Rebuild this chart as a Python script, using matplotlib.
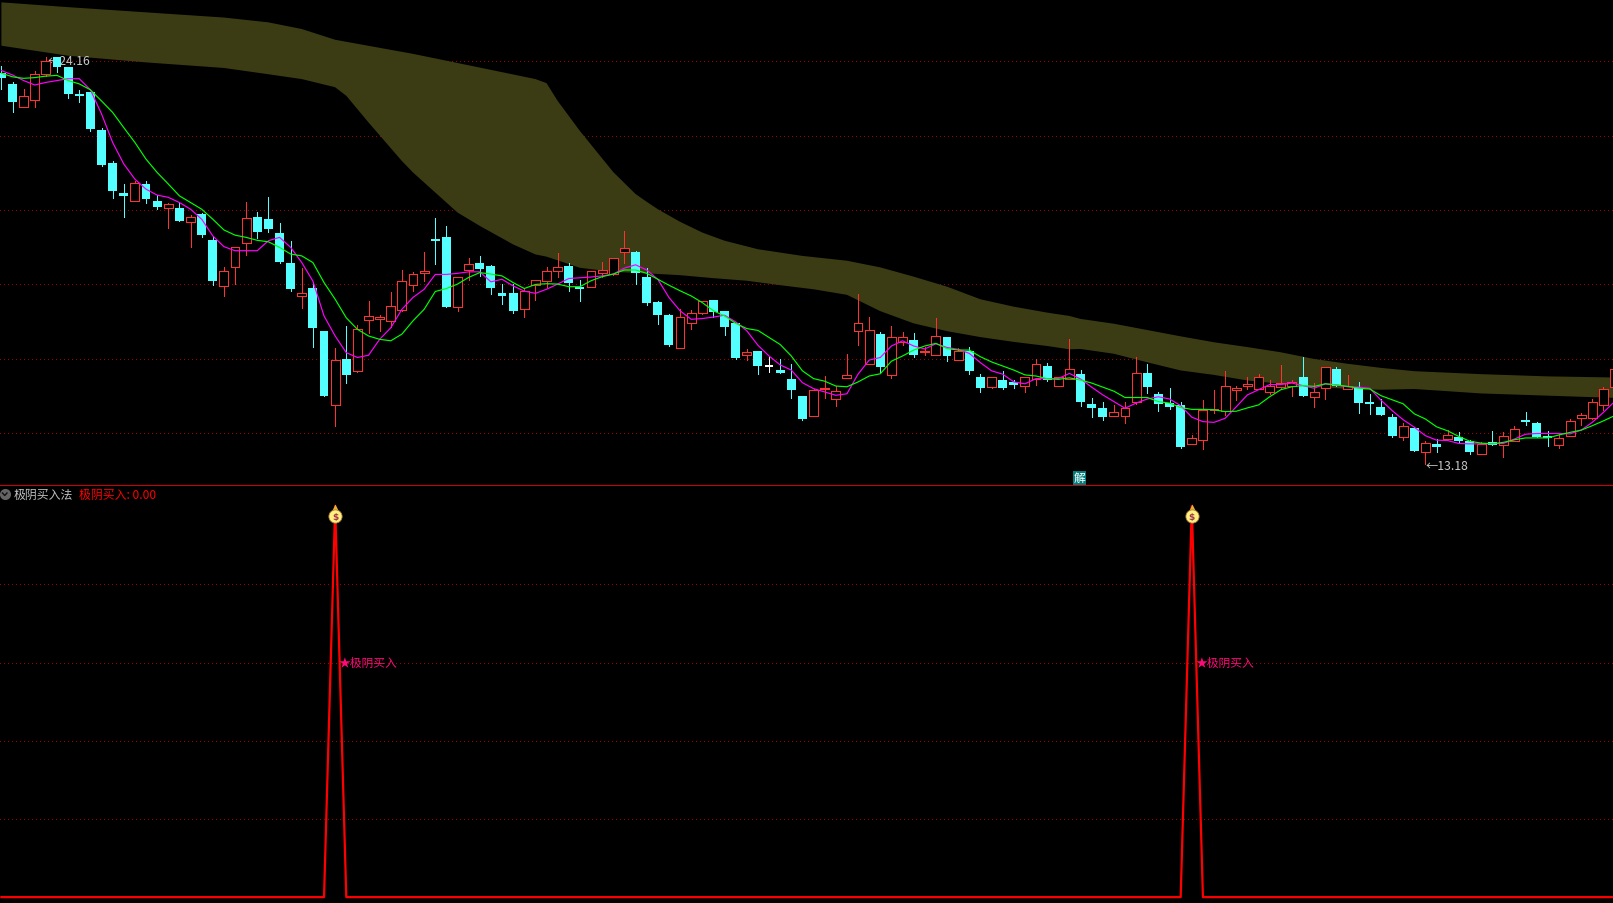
import matplotlib
matplotlib.use("Agg")
import matplotlib.pyplot as plt
from matplotlib.lines import Line2D

plt.rcParams['font.family'] = ['Noto Sans CJK SC', 'DejaVu Sans']

# daily candles
opens = [23.72, 23.43, 22.81, 23.00, 23.70, 24.15, 23.88, 23.15, 23.21, 22.18,
         21.29, 20.48, 20.28, 20.73, 20.27, 20.09, 20.08, 19.71, 19.92, 19.21,
         17.98, 18.49, 19.14, 19.83, 19.78, 19.40, 18.59, 17.71, 17.92, 16.76,
         14.77, 16.00, 15.69, 17.06, 17.09, 17.04, 17.33, 18.01, 18.34, 19.24,
         19.29, 17.42, 18.41, 18.59, 18.51, 17.78, 17.78, 17.36, 18.00, 18.11,
         18.39, 18.51, 17.94, 17.95, 18.33, 18.30, 18.90, 18.89, 18.21, 17.54,
         17.19, 16.31, 16.98, 17.24, 17.59, 17.30, 16.97, 16.12, 16.22, 15.80,
         15.70, 15.46, 15.00, 14.47, 15.20, 14.93, 15.50, 16.76, 15.87, 16.68,
         15.58, 16.48, 16.51, 16.20, 16.12, 16.59, 15.97, 16.22, 15.51, 15.25,
         15.43, 15.34, 15.28, 15.46, 15.81, 15.28, 15.46, 15.60, 14.80, 14.69,
         14.48, 14.48, 14.86, 15.63, 15.07, 14.82, 14.77, 13.72, 13.83, 14.62,
         14.61, 15.18, 15.29, 15.21, 15.13, 15.26, 15.28, 15.52, 14.99, 15.24,
         15.74, 15.21, 15.25, 14.82, 14.71, 14.44, 13.91, 14.15, 13.50, 13.72,
         13.86, 13.90, 13.80, 13.45, 13.77, 13.70, 13.81, 14.36, 14.28, 13.93,
         13.70, 13.94, 14.41, 14.42, 14.78, 15.26]
closes = [23.59, 22.95, 23.09, 23.69, 24.04, 23.88, 23.15, 23.10, 22.21, 21.24,
          20.54, 20.40, 20.75, 20.32, 20.10, 20.18, 19.73, 19.83, 19.35, 18.11,
          18.37, 19.04, 19.80, 19.43, 19.51, 18.62, 17.89, 17.80, 16.84, 15.00,
          15.99, 15.57, 16.83, 17.18, 17.15, 17.45, 18.12, 18.31, 18.39, 19.19,
          17.40, 18.23, 18.58, 18.43, 17.92, 17.70, 17.30, 17.85, 18.15, 18.37,
          18.50, 18.05, 17.89, 18.37, 18.42, 18.74, 18.99, 18.32, 17.51, 17.19,
          16.38, 17.13, 17.26, 17.56, 17.27, 16.86, 16.03, 16.21, 15.81, 15.80,
          15.62, 15.16, 14.38, 15.16, 15.23, 15.15, 15.59, 16.99, 16.80, 15.78,
          16.59, 16.59, 16.13, 16.23, 16.64, 16.08, 16.22, 15.68, 15.22, 15.51,
          15.24, 15.32, 15.51, 15.88, 15.43, 15.51, 15.75, 14.85, 14.69, 14.44,
          14.57, 14.69, 15.62, 15.25, 14.80, 14.71, 13.63, 13.89, 14.63, 14.65,
          15.27, 15.23, 15.33, 15.52, 15.27, 15.35, 15.38, 15.01, 15.11, 15.79,
          15.28, 15.27, 14.82, 14.80, 14.50, 13.93, 14.19, 13.53, 13.73, 13.63,
          13.96, 13.80, 13.50, 13.72, 13.69, 13.92, 14.11, 14.31, 13.90, 13.88,
          13.87, 14.33, 14.49, 14.84, 15.19, 15.73]
highs = [23.92, 23.49, 23.29, 23.78, 24.16, 24.15, 23.88, 23.26, 23.21, 22.24,
         21.35, 20.73, 20.81, 20.81, 20.43, 20.21, 20.24, 19.89, 19.94, 19.32,
         18.48, 19.04, 20.24, 19.97, 20.37, 19.67, 19.19, 18.46, 18.08, 16.76,
         16.30, 16.89, 16.92, 17.57, 17.19, 17.81, 18.40, 18.35, 18.89, 19.81,
         19.59, 18.23, 18.73, 18.78, 18.54, 18.02, 18.02, 17.89, 18.15, 18.48,
         18.86, 18.59, 18.13, 18.37, 18.62, 18.74, 19.46, 18.92, 18.46, 17.57,
         17.21, 17.35, 17.32, 17.57, 17.59, 17.30, 17.00, 16.27, 16.22, 16.05,
         16.00, 15.87, 15.00, 15.19, 15.54, 15.27, 16.14, 17.75, 17.13, 16.73,
         16.89, 16.73, 16.70, 16.32, 17.11, 16.59, 16.31, 16.32, 15.60, 15.51,
         15.68, 15.43, 15.52, 16.00, 15.89, 15.51, 16.54, 15.71, 14.96, 14.85,
         14.77, 14.85, 16.06, 15.88, 15.12, 15.23, 14.85, 13.96, 14.90, 15.17,
         15.69, 15.28, 15.52, 15.60, 15.44, 15.85, 15.44, 16.06, 15.36, 15.79,
         15.79, 15.58, 15.39, 15.07, 14.93, 14.53, 14.28, 14.17, 13.80, 13.85,
         14.09, 14.04, 13.82, 13.77, 14.07, 14.04, 14.20, 14.58, 14.31, 14.07,
         13.99, 14.39, 14.55, 14.93, 15.25, 15.79]
lows = [23.29, 22.68, 22.81, 22.81, 23.63, 23.76, 23.06, 22.95, 22.16, 21.21,
        20.35, 19.83, 20.28, 20.21, 20.05, 19.54, 19.73, 19.02, 19.29, 18.00,
        17.70, 18.03, 18.81, 19.27, 19.43, 18.59, 17.84, 17.38, 16.32, 15.00,
        14.19, 15.35, 15.65, 16.70, 16.76, 16.86, 17.30, 17.84, 18.11, 18.57,
        17.40, 17.30, 18.13, 18.24, 17.76, 17.49, 17.24, 17.13, 17.59, 17.96,
        18.21, 17.84, 17.57, 17.95, 18.21, 18.27, 18.59, 18.03, 17.46, 16.95,
        16.35, 16.31, 16.81, 17.21, 17.13, 16.65, 16.00, 15.97, 15.60, 15.65,
        15.62, 14.95, 14.35, 14.47, 14.95, 14.73, 15.50, 16.40, 15.87, 15.65,
        15.49, 16.40, 16.05, 16.13, 16.12, 15.95, 15.97, 15.60, 15.11, 15.22,
        15.19, 15.22, 15.11, 15.30, 15.41, 15.28, 15.46, 14.74, 14.44, 14.36,
        14.48, 14.28, 14.80, 15.09, 14.61, 14.66, 13.61, 13.72, 13.58, 14.55,
        14.50, 14.90, 15.20, 15.20, 15.07, 15.20, 15.01, 15.01, 14.71, 14.93,
        15.28, 15.21, 14.55, 14.52, 14.50, 13.90, 13.82, 13.53, 13.18, 13.50,
        13.85, 13.77, 13.45, 13.45, 13.69, 13.36, 13.80, 14.23, 13.90, 13.66,
        13.61, 13.93, 14.23, 14.39, 14.63, 15.20]

# the two moving averages
ma_fast = [23.79, 23.67, 23.52, 23.40, 23.47, 23.52, 23.57, 23.57, 23.27, 22.62,
           21.85, 21.27, 20.86, 20.59, 20.43, 20.37, 20.23, 20.05, 19.78, 19.33,
           19.04, 18.93, 18.93, 18.93, 19.20, 19.29, 19.02, 18.61, 18.11, 17.17,
           16.63, 16.18, 16.05, 16.11, 16.54, 16.85, 17.35, 17.67, 17.89, 18.29,
           18.29, 18.32, 18.36, 18.36, 18.09, 18.16, 17.98, 17.84, 17.78,
           17.89, 18.03, 18.18, 18.20, 18.22, 18.25, 18.30, 18.46, 18.55, 18.41,
           18.16, 17.67, 17.31, 17.08, 17.10, 17.14, 17.19, 17.01, 16.77, 16.38,
           16.09, 15.85, 15.71, 15.37, 15.21, 15.12, 15.03, 15.07, 15.60, 15.98,
           16.05, 16.36, 16.50, 16.36, 16.28, 16.42, 16.32, 16.27, 16.16, 15.91,
           15.69, 15.60, 15.39, 15.34, 15.48, 15.48, 15.48, 15.62,
           15.47, 15.25, 15.04, 14.86, 14.68, 14.82, 14.93, 14.99, 14.93, 14.75,
           14.44, 14.32, 14.30, 14.41, 14.72, 15.04, 15.18, 15.32, 15.32, 15.36,
           15.29, 15.22, 15.34, 15.31, 15.26, 15.25, 15.22, 14.90, 14.62, 14.37,
           14.17, 13.94, 13.82, 13.81, 13.73, 13.72, 13.72, 13.73, 13.73, 13.85,
           13.98, 14.00, 14.00, 14.00, 13.99, 14.09, 14.30, 14.57, 14.86]
ma_slow = [23.72, 23.62, 23.58, 23.60, 23.64, 23.66, 23.52, 23.43, 23.27, 22.97,
           22.66, 22.25, 21.85, 21.40, 21.04, 20.73, 20.41, 20.23, 20.05, 19.78,
           19.49, 19.35, 19.29, 19.21, 19.17, 19.02, 18.84, 18.79, 18.61, 18.07,
           17.62, 17.12, 16.81, 16.63, 16.54, 16.50, 16.68, 17.04, 17.35, 17.83,
           17.91, 18.03, 18.21, 18.34, 18.30, 18.25, 18.07, 17.91, 18.02,
           18.04, 18.03, 17.96, 17.96, 18.12, 18.23, 18.30, 18.41, 18.41, 18.32,
           18.16, 18.00, 17.85, 17.71, 17.53, 17.31, 17.17, 16.97, 16.83, 16.78,
           16.59, 16.40, 16.09, 15.69, 15.48, 15.41, 15.28, 15.26, 15.39, 15.55,
           15.61, 15.95, 16.09, 16.25, 16.36, 16.43, 16.29, 16.25, 16.25, 16.07,
           15.93, 15.82, 15.71, 15.58, 15.55, 15.48, 15.46, 15.50,
           15.44, 15.36, 15.25, 15.14, 14.97, 14.97, 14.97, 14.86, 14.82, 14.70,
           14.65, 14.65, 14.64, 14.59, 14.60, 14.69, 14.77, 14.99, 15.18, 15.26,
           15.29, 15.27, 15.34, 15.31, 15.27, 15.22, 15.20, 15.02, 14.91, 14.80,
           14.53, 14.39, 14.18, 14.07, 13.92, 13.79, 13.74, 13.72, 13.76, 13.83,
           13.88, 13.88, 13.88, 13.96, 14.03, 14.09, 14.21, 14.34, 14.48]

# olive band, upper and lower edge
band_top_days = [0, 6, 13, 20, 24, 27, 30, 37, 43, 48, 49, 50, 52, 55, 57, 58, 59, 61, 63, 65,
                 68, 72, 76, 79, 82, 85, 88, 91, 94, 96, 97, 100, 103, 106, 109, 112, 115,
                 118, 121, 124, 127, 133, 139, 145]
band_top = [25.63, 25.50, 25.36, 25.22, 25.09, 24.91, 24.62, 24.24, 23.87, 23.56, 23.45, 22.97,
            22.16, 21.05, 20.46, 20.25, 20.05, 19.71, 19.42, 19.20, 18.97, 18.79, 18.66, 18.48,
            18.23, 17.96, 17.62, 17.42, 17.26, 17.17, 17.09, 16.96, 16.79, 16.62, 16.46, 16.33,
            16.19, 16.01, 15.88, 15.77, 15.68, 15.60, 15.54, 15.51]
band_bot_days = [0, 6, 13, 20, 24, 27, 30, 31, 33, 36, 37, 41, 43, 46, 48, 49, 52, 55, 58, 61, 64,
                 67, 70, 73, 76, 79, 82, 85, 88, 91, 94, 96, 97, 100, 103, 106, 109, 112, 115,
                 118, 121, 124, 127, 133, 139, 145]
band_bot = [24.46, 24.19, 24.01, 23.86, 23.69, 23.56, 23.34, 23.11, 22.39, 21.35, 21.04, 19.96,
            19.60, 19.10, 18.83, 18.77, 18.47, 18.36, 18.32, 18.27, 18.19, 18.12, 18.00, 17.89,
            17.74, 17.30, 16.97, 16.76, 16.60, 16.47, 16.36, 16.27, 16.28, 16.15, 15.92, 15.70,
            15.58, 15.43, 15.34, 15.27, 15.20, 15.18, 15.20, 15.08, 15.02, 14.96]

price_levels = [24.04, 22.02, 20.02, 18.02, 16.00, 14.00]
signal_levels = [0.2, 0.4, 0.6, 0.8]

# buy signal: 1 on these days, 0 on all others
signal_days = [30, 107]
signal = [0.0] * len(opens)
for d in signal_days:
    signal[d] = 1.0

days = list(range(len(opens)))

W, H = 1613, 904
SPLIT = 486

RED = '#ff3232'
CYAN = '#54ffff'
GRID = '#a00000'
PX = 0.72  # one pixel in points at dpi 100
THIN = 0.6

fig = plt.figure(figsize=(W / 100, H / 100), dpi=100, facecolor='black')
ax = fig.add_axes([0, (H - SPLIT) / H, 1, SPLIT / H])
ax2 = fig.add_axes([0, 0, 1, (H - SPLIT) / H])
for a in (ax, ax2):
    a.axis('off')
    a.set_xlim(-0.126, 144.86)
ax.set_ylim(12.61, 25.72)
ax2.set_ylim(-0.015, 1.054)

for p in price_levels:
    ax.axhline(p, color=GRID, lw=PX, ls=(0, (1, 3)), zorder=1, antialiased=False)
for p in signal_levels:
    ax2.axhline(p, color=GRID, lw=PX, ls=(0, (1, 3)), zorder=1, antialiased=False)

# band has two edges on different days, so draw it as one closed polygon
ax.fill(band_top_days + band_bot_days[::-1], band_top + band_bot[::-1],
        color='#3c3c14', lw=0, zorder=2)

ax.annotate('←24.16', (4, 24.16), xytext=(1, -2.5), textcoords='offset points', color='#c8c8c8',
            fontsize=8.8, va='center', ha='left', zorder=2.5)
ax.annotate('←13.18', (128, 13.18), xytext=(0, -1), textcoords='offset points', color='#c8c8c8',
            fontsize=8.8, va='center', ha='left', zorder=6)

for i in days:
    o, c = opens[i], closes[i]
    if c > o:
        col = RED
    elif c < o:
        col = CYAN
    else:
        col = 'white'
    ax.plot([i, i], [lows[i], highs[i]], color=col, lw=THIN, zorder=3,
            antialiased=False, solid_capstyle='butt')
    if c > o:
        ax.bar(i, c - o, bottom=o, width=0.8, facecolor='black', edgecolor=col,
               linewidth=THIN, zorder=3.5, antialiased=False)
    else:
        ax.bar(i, max(o - c, 0.06), bottom=c, width=0.8, color=col, lw=0,
               zorder=3.5, antialiased=False)

ax.plot(days, ma_fast, color='#ff00ff', lw=0.85, zorder=5)
ax.plot(days, ma_slow, color='#00ff00', lw=0.85, zorder=5)

ax.annotate('解', (97, 12.61), xytext=(-0.5, 0.5), textcoords='offset points', color='white',
            fontsize=8.5, ha='center', va='bottom', zorder=7,
            bbox=dict(boxstyle='square,pad=0.05', fc='#007d7d', ec='none'))

# lower panel
ax2.plot(days, signal, color='#ff0000', lw=1.6, zorder=4)
for d in signal_days:
    ax2.annotate('★极阴买入', (d, 0.6), xytext=(2.5, 0), textcoords='offset points',
                 color='#ff0a78', fontsize=8.5, va='center', ha='left', zorder=5)
    # money bag icon on top of the spike
    ax2.plot(d, 0.998, marker='^', ms=5, mfc='#e8b030', mec='none', zorder=5)
    ax2.plot(d, 0.974, marker='o', ms=9.5, mfc='#fff080', mec='#b08040', mew=0.6, zorder=6)
    ax2.text(d, 0.973, '$', color='#a03848', fontsize=6.5, fontweight='bold',
             ha='center', va='center', zorder=7, family='DejaVu Sans')

fig.add_artist(Line2D([0, 1], [(H - SPLIT) / H] * 2, color='#d00000', lw=THIN, antialiased=False))

# indicator header
fig.add_artist(Line2D([4.7 / W], [1 - 495 / H], marker='o', ms=8, mfc='#646464', mec='none'))
fig.add_artist(Line2D([2.5 / W, 4.7 / W, 7 / W], [1 - 494 / H, 1 - 496.5 / H, 1 - 494 / H],
                      color='#101010', lw=1.0))
fig.text(14 / W, 1 - 495 / H, '极阴买入法', color='#c0c0c0', fontsize=8.6, va='center', ha='left')
fig.text(79 / W, 1 - 495 / H, '极阴买入: 0.00', color='#ff0000', fontsize=8.6, va='center', ha='left')

fig.savefig('out.png', dpi=100, facecolor='black')
